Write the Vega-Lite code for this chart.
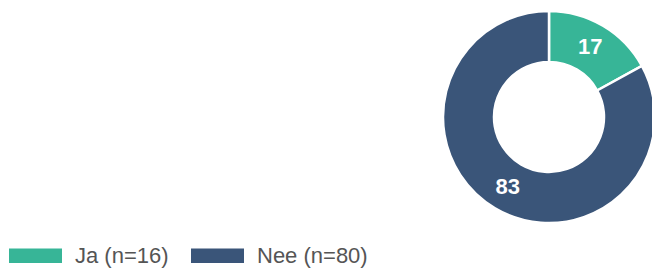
{
  "$schema": "https://vega.github.io/schema/vega-lite/v6.json",
  "width": 212,
  "height": 212,
  "autosize": {"type": "none"},
  "padding": {"left": 443, "top": 11, "right": 0, "bottom": 47},
  "background": "white",
  "config": {"view": {"stroke": null}},
  "data": {
    "values": [
      {"category": "Ja (n=16)", "value": 17},
      {"category": "Nee (n=80)", "value": 83}
    ]
  },
  "encoding": {
    "theta": {"field": "value", "type": "quantitative", "stack": true}
  },
  "layer": [
    {
      "mark": {"type": "arc", "outerRadius": 106, "innerRadius": 55, "stroke": "white", "strokeWidth": 2.5},
      "encoding": {
        "color": {
          "field": "category",
          "type": "nominal",
          "scale": {"domain": ["Ja (n=16)", "Nee (n=80)"], "range": ["#37b597", "#3a5579"]},
          "legend": {
            "title": null,
            "orient": "none",
            "legendX": -434,
            "legendY": 218,
            "direction": "horizontal",
            "symbolType": "M-1,-0.27H1V0.27H-1Z",
            "symbolSize": 2809,
            "symbolStrokeWidth": 0,
            "labelFont": "Liberation Sans",
            "labelFontSize": 22,
            "labelColor": "#555555",
            "labelOffset": 13,
            "columnPadding": 22,
            "labelLimit": 300
          }
        }
      }
    },
    {
      "mark": {"type": "text", "radius": 81, "fontSize": 22, "fontWeight": "bold", "font": "Liberation Sans", "color": "white"},
      "encoding": {
        "text": {"field": "value", "type": "quantitative"},
        "detail": {"field": "category", "type": "nominal"}
      }
    }
  ]
}
